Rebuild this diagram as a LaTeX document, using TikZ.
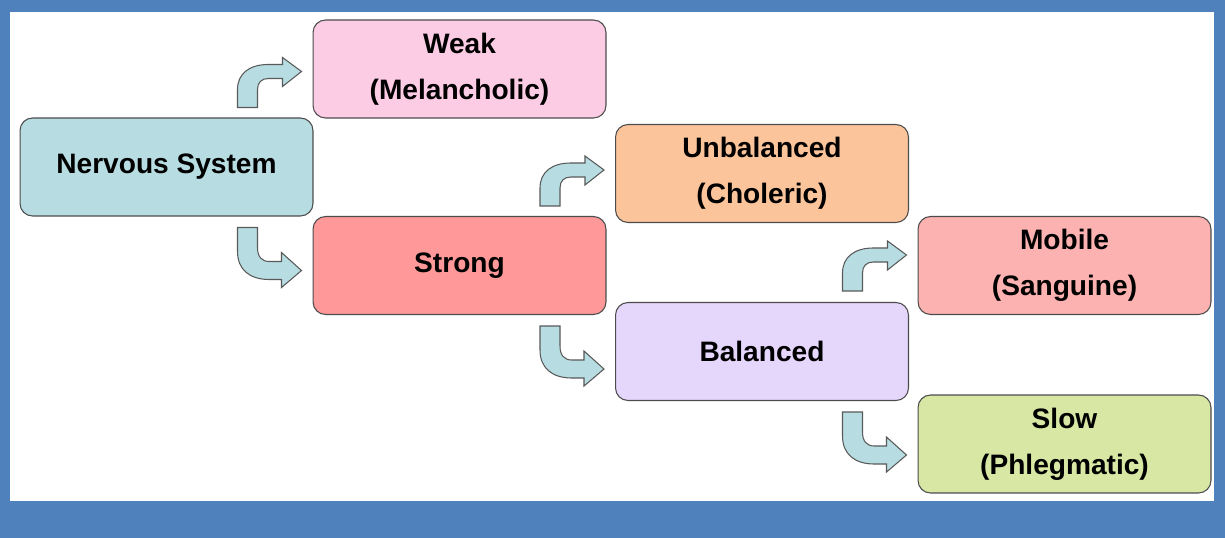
\documentclass[tikz,border=0pt]{standalone}
\usepackage{fontspec}
\setmainfont{Liberation Sans}
\usepackage{tikz}
\usetikzlibrary{calc,positioning}
\definecolor{framebg}{RGB}{79,129,189}
\definecolor{nsteal}{RGB}{183,221,226}
\definecolor{weakpink}{RGB}{252,204,228}
\definecolor{strongred}{RGB}{255,153,153}
\definecolor{unbalorange}{RGB}{252,196,154}
\definecolor{ballilac}{RGB}{229,214,252}
\definecolor{mobilesalmon}{RGB}{251,178,176}
\definecolor{slowgreen}{RGB}{216,232,164}
\tikzset{
  % base box
  box/.style={
    draw=black!70,
    line width=0.6pt,
    rounded corners=0.25cm,
    minimum width=5.86cm,
    minimum height=1.96cm,
    align=center,
    font=\fontsize{16}{26}\selectfont\bfseries
  },
  % bent arrow fill
  bentfill/.style={fill=nsteal, draw=black!65, line width=0.6pt},
  % arrow turning up, then right
  upbend/.pic={
    \filldraw[bentfill] (-64,0) -- (-44,0) -- (-44,-18)
      .. controls (-44,-25) and (-40,-29) .. (-33,-29) -- (-19,-29)
      -- (-19,-21) -- (0,-36) -- (-19,-50) -- (-19,-43) -- (-33,-43)
      .. controls (-52,-43) and (-64,-34) .. (-64,-18) -- cycle;
  },
  % arrow turning down, then right
  downbend/.pic={
    \filldraw[bentfill] (-64,0) -- (-44,0) -- (-44,20)
      .. controls (-44,29) and (-40,34) .. (-32,34) -- (-20,34)
      -- (-20,25) -- (0,43) -- (-20,60) -- (-20,52) -- (-32,52)
      .. controls (-52,52) and (-64,42) .. (-64,24) -- cycle;
  },
}

\begin{document}
\begin{tikzpicture}[x=0.02cm, y=-0.02cm]
  % frame
  \useasboundingbox (0,0) rectangle (1225,538);
  \fill[framebg] (0,0) rectangle (1225,538);
  \fill[white] (10,12) rectangle (1214,501);

  % boxes
  \node[box, fill=nsteal] (ns) at (166.5,167) {Nervous System};
  \node[box, fill=weakpink] (weak) at (459.5,69) {Weak\\(Melancholic)};
  \node[box, fill=strongred] (strong) at (459.5,265.5) {Strong};
  \node[box, fill=unbalorange] (unbal) at (762,173.5) {Unbalanced\\(Choleric)};
  \node[box, fill=ballilac] (bal) at (762,351.5) {Balanced};
  \node[box, fill=mobilesalmon] (mobile) at (1064.5,265.5) {Mobile\\(Sanguine)};
  \node[box, fill=slowgreen] (slow) at (1064.5,444) {Slow\\(Phlegmatic)};

  % bent arrows
  \pic at ($(weak.west |- ns.north)+(-11,-10)$) {upbend};
  \pic at ($(strong.west |- ns.south)+(-11,11)$) {downbend};
  \pic at ($(unbal.west |- strong.north)+(-11,-10)$) {upbend};
  \pic at ($(bal.west |- strong.south)+(-11,11)$) {downbend};
  \pic at ($(mobile.west |- bal.north)+(-11,-11)$) {upbend};
  \pic at ($(slow.west |- bal.south)+(-11,11)$) {downbend};
\end{tikzpicture}
\end{document}
